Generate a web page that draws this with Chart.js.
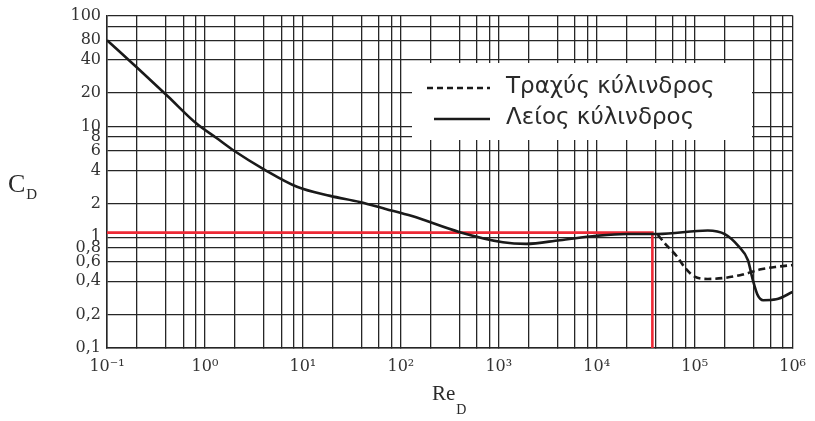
<!DOCTYPE html>
<html>
<head>
  <meta charset="utf-8">
  <title>C_D - Re_D</title>
  <style>
    body { margin: 0; background: #fff; }
    #wrap { width: 815px; height: 421px; }
  </style>
</head>
<body>
<div id="wrap">
  <canvas id="myChart"></canvas>
</div>
<script src="https://cdn.jsdelivr.net/npm/chart.js"></script>
<script>
  // dane (Re_D, C_D)
  const smoothRe = [0.1, 0.21, 0.42, 0.82, 1.3, 2.0, 4.0, 8.7, 19, 38, 70, 130, 400, 1100, 1900, 4200, 1e4, 2e4, 4.2e4, 1.36e5, 2.05e5, 2.8e5, 3.5e5, 3.9e5, 4.4e5, 5e5, 6.8e5, 1e6];
  const smoothCd = [60, 33, 18.6, 10.6, 7.9, 6.0, 4.1, 2.85, 2.36, 2.08, 1.8, 1.55, 1.11, 0.9, 0.87, 0.94, 1.03, 1.07, 1.07, 1.15, 1.06, 0.83, 0.62, 0.42, 0.30, 0.27, 0.275, 0.32];
  const roughRe = [4.2e4, 5.2e4, 6.5e4, 8.1e4, 1e5, 1.36e5, 2.05e5, 3.1e5, 4.6e5, 6.8e5, 1e6];
  const roughCd = [1.05, 0.84, 0.68, 0.52, 0.44, 0.42, 0.43, 0.46, 0.51, 0.54, 0.56];
  const markRe = [0.1, 3.7e4, 3.7e4];
  const markCd = [1.1, 1.1, 0.1];

  const seriesLabels = ['Τραχύς κύλινδρος', 'Λείος κύλινδρος'];

  const xGridValues = [0.1, 0.2, 0.4, 0.6, 0.8, 1, 2, 4, 6, 8, 10, 20, 40, 60, 80, 100, 200, 400, 600, 800,
    1e3, 2e3, 4e3, 6e3, 8e3, 1e4, 2e4, 4e4, 6e4, 8e4, 1e5, 2e5, 4e5, 6e5, 8e5, 1e6];
  const xTickValues = [0.1, 1, 10, 100, 1e3, 1e4, 1e5, 1e6];
  const xTickLabels = ['10⁻¹', '10⁰', '10¹', '10²', '10³', '10⁴', '10⁵', '10⁶'];

  const yGridValues = [0.1, 0.2, 0.4, 0.6, 0.8, 1, 2, 4, 6, 8, 10, 20, 40, 60, 80, 100];
  const yTickValues = [0.1, 0.2, 0.4, 0.6, 0.8, 1, 2, 4, 6, 8, 10, 20, 40, 60, 100];
  const yTickLabels = ['0,1', '0,2', '0,4', '0,6', '0,8', '1', '2', '4', '6', '8', '10', '20', '40', '80', '100'];

  function toPoints(xs, ys) {
    return xs.map((x, i) => ({ x: x, y: ys[i] }));
  }

  // legenda w ramce z białym tłem + opisy osi
  const extras = {
    id: 'extras',
    beforeDatasetsDraw(chart) {
      const ctx = chart.ctx;
      ctx.save();
      ctx.fillStyle = '#fff';
      ctx.fillRect(412, 63, 340, 77);
      const rows = [
        { label: chart.data.datasets[0].label, dash: [6, 4], y: 88 },
        { label: chart.data.datasets[1].label, dash: [], y: 119 }
      ];
      rows.forEach(r => {
        ctx.strokeStyle = '#1a1a1a';
        ctx.lineWidth = 2.5;
        ctx.setLineDash(r.dash);
        ctx.beginPath();
        ctx.moveTo(r.dash.length ? 427 : 434, r.y);
        ctx.lineTo(490, r.y);
        ctx.stroke();
        ctx.setLineDash([]);
        ctx.fillStyle = '#2a2a2a';
        ctx.font = '23px "DejaVu Sans"';
        ctx.textBaseline = 'alphabetic';
        ctx.fillText(r.label, 506, r.y + 5);
      });
      ctx.restore();
    },
    afterDraw(chart) {
      const ctx = chart.ctx;
      ctx.save();
      ctx.fillStyle = '#2a2a2a';
      ctx.textBaseline = 'alphabetic';
      ctx.font = '26px "Liberation Serif"';
      ctx.fillText('C', 8, 192);
      let w = ctx.measureText('C').width;
      ctx.font = '15px "Liberation Serif"';
      ctx.fillText('D', 8 + w + 1, 199);
      ctx.font = '21px "Liberation Serif"';
      ctx.fillText('Re', 432, 400);
      w = ctx.measureText('Re').width;
      ctx.font = '14px "Liberation Serif"';
      ctx.fillText('D', 432 + w + 1, 414);
      ctx.restore();
    }
  };

  const ctx = document.getElementById('myChart');
  new Chart(ctx, {
    type: 'line',
    data: {
      datasets: [
        {
          label: seriesLabels[0],
          data: toPoints(roughRe, roughCd),
          borderColor: '#1a1a1a',
          borderWidth: 2.6,
          borderDash: [7, 4],
          pointRadius: 0,
          cubicInterpolationMode: 'monotone',
          order: 0
        },
        {
          label: seriesLabels[1],
          data: toPoints(smoothRe, smoothCd),
          borderColor: '#1a1a1a',
          borderWidth: 2.6,
          pointRadius: 0,
          cubicInterpolationMode: 'monotone',
          order: 0
        },
        {
          label: 'mark',
          data: toPoints(markRe, markCd),
          borderColor: '#ee2a36',
          borderWidth: 2.6,
          pointRadius: 0,
          tension: 0,
          order: 2
        }
      ]
    },
    options: {
      responsive: true,
      maintainAspectRatio: false,
      animation: false,
      layout: { padding: { top: 14, right: 19, left: 0, bottom: 0 } },
      plugins: {
        legend: { display: false },
        tooltip: { enabled: false }
      },
      scales: {
        x: {
          type: 'logarithmic',
          min: 0.1,
          max: 1e6,
          afterBuildTicks: (scale) => { scale.ticks = xGridValues.map(v => ({ value: v })); },
          afterFit: (scale) => { scale.height = 73; },
          grid: { color: '#262626', lineWidth: 1.3, tickLength: 0 },
          border: { color: '#262626', width: 1.5 },
          ticks: {
            autoSkip: false,
            maxRotation: 0,
            minRotation: 0,
            padding: 9,
            color: '#333',
            font: { family: 'DejaVu Serif', size: 16 },
            callback: (value) => {
              const i = xTickValues.indexOf(value);
              return i >= 0 ? xTickLabels[i] : '';
            }
          }
        },
        y: {
          type: 'logarithmic',
          min: 0.1,
          max: 100,
          afterBuildTicks: (scale) => { scale.ticks = yGridValues.map(v => ({ value: v })); },
          afterFit: (scale) => { scale.width = 107; },
          grid: { color: '#262626', lineWidth: 1.3, tickLength: 0 },
          border: { color: '#262626', width: 1.5 },
          ticks: {
            autoSkip: false,
            padding: 6,
            color: '#333',
            font: { family: 'DejaVu Serif', size: 16 },
            callback: (value) => {
              const i = yTickValues.indexOf(value);
              return i >= 0 ? yTickLabels[i] : '';
            }
          }
        }
      }
    },
    plugins: [extras]
  });
</script>
</body>
</html>
